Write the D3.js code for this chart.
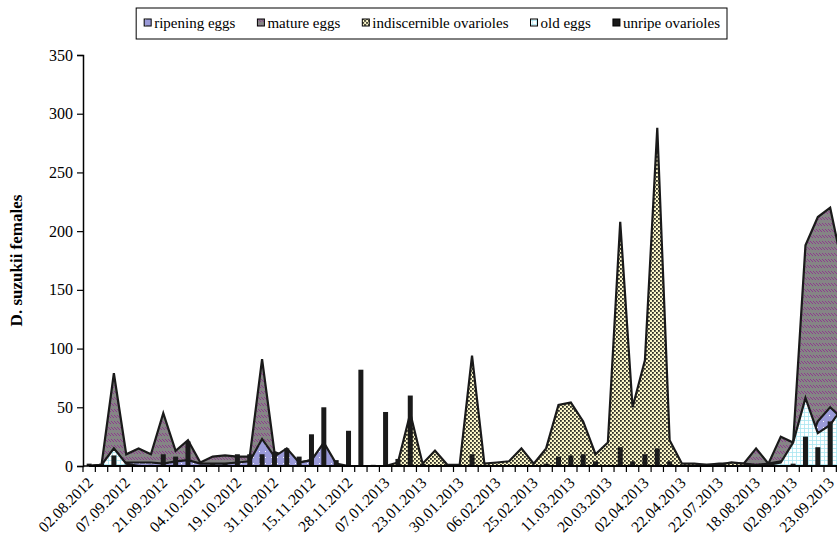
<!DOCTYPE html>
<html lang="en">
<head>
<meta charset="utf-8"/>
<title>D. suzukii females</title>
<script src="https://cdnjs.cloudflare.com/ajax/libs/d3/7.8.5/d3.min.js"></script>
<style>
  body { margin: 0; background: white; }
  text { font-family: "Liberation Serif", "DejaVu Serif", serif; fill: #000; }
</style>
</head>
<body>
<div id="chart"></div>
<script>
// tick labels, shown on every third sample
var labelDates = ["02.08.2012","07.09.2012","21.09.2012","04.10.2012","19.10.2012","31.10.2012",
  "15.11.2012","28.11.2012","07.01.2013","23.01.2013","30.01.2013","06.02.2013","25.02.2013",
  "11.03.2013","20.03.2013","02.04.2013","22.04.2013","22.07.2013","18.08.2013","02.09.2013","23.09.2013"];

var seriesNames = ["ripening eggs","mature eggs","indiscernible ovarioles","old eggs","unripe ovarioles"];

// counts per sample (63 samples)
var matureEggs = [0,1,79,10,15,10,45,13,22,3, 8,9,8,8,91,12,8,3,5,3,
  0,0,0,0,0,0,0,0,0,0, 0,0,0,0,0,0,0,0,0,0, 0,0,0,0,0,0,0,0,1,1,
  1,2,2,2,15,2,25,20,188,212, 220,170,150];
var ripeningEggs = [0,1,3,3,3,3,2,4,5,2, 2,2,3,4,23,8,15,3,5,20,
  2,0,0,0,0,0,0,0,0,0, 0,0,0,0,0,0,0,0,0,0, 0,0,0,0,0,0,0,0,0,0,
  0,0,0,0,0,0,0,3,12,38, 50,40,40];
var indiscernible = [0,0,2,0,0,0,0,0,0,0, 0,0,0,0,0,0,0,0,0,0,
  0,0,0,0,0,3,45,2,13,1, 1,94,2,3,4,15,2,15,52,54, 38,10,20,208,50,90,288,22,2,2,
  1,1,3,2,1,2,4,3,3,5, 6,35,40];
var oldEggs = [0,1,15,2,0,0,0,0,0,0, 0,0,0,0,0,0,0,0,0,0,
  0,0,0,0,0,0,0,0,0,0, 0,0,0,0,0,0,0,0,0,0, 0,0,0,0,0,0,0,0,0,0,
  0,0,0,0,0,1,3,20,58,28, 35,50,50];
var unripe = [2,2,9,1,1,1,10,8,21,1, 2,2,10,10,10,12,15,8,27,50,
  5,30,82,1,46,6,60,2,0,0, 0,10,0,0,0,0,0,2,8,9, 10,4,0,16,4,10,15,4,0,0,
  0,0,0,0,0,0,0,2,25,16, 38,20,0];

var yTicks = [0,50,100,150,200,250,300,350];

var W = 837, H = 542;
var plotLeft = 83, plotBottom = 466, plotTop = 55;
var bw = 12.35;
var n = matureEggs.length;

var svg = d3.select("#chart").append("svg").attr("width", W).attr("height", H);

// patterns
var defs = svg.append("defs");
var pMat = defs.append("pattern").attr("id","pMat").attr("patternUnits","userSpaceOnUse").attr("width",6).attr("height",6);
pMat.append("rect").attr("width",6).attr("height",6).attr("fill","#858585");
pMat.append("path").attr("d","M0,1 L3,4 M3,1 L6,4").attr("stroke","#8e3c8e").attr("stroke-width",1);

var pRip = defs.append("pattern").attr("id","pRip").attr("patternUnits","userSpaceOnUse").attr("width",6).attr("height",6);
pRip.append("rect").attr("width",6).attr("height",6).attr("fill","#9a9ad8");
pRip.append("rect").attr("x",1).attr("y",1).attr("width",1).attr("height",1).attr("fill","#fff");

var pInd = defs.append("pattern").attr("id","pInd").attr("patternUnits","userSpaceOnUse").attr("width",4).attr("height",4);
pInd.append("rect").attr("width",4).attr("height",4).attr("fill","#fbf6c8");
pInd.append("rect").attr("x",0).attr("y",0).attr("width",1.8).attr("height",1.8).attr("fill","#2e2e26");
pInd.append("rect").attr("x",2).attr("y",2).attr("width",1.8).attr("height",1.8).attr("fill","#2e2e26");

var pOld = defs.append("pattern").attr("id","pOld").attr("patternUnits","userSpaceOnUse").attr("width",4).attr("height",4);
pOld.append("rect").attr("width",4).attr("height",4).attr("fill","#fff");
pOld.append("path").attr("d","M0,0.5 H4 M0.5,0 V4").attr("stroke","#a8e4f0").attr("stroke-width",0.8);

var x = d3.scaleBand().domain(d3.range(n)).range([plotLeft, plotLeft + n * bw]);
var y = d3.scaleLinear().domain([0, 350]).range([plotBottom, plotTop]);
var cx = function(i) { return x(i) + x.bandwidth() / 2; };

var area = d3.area()
  .x(function(d, i) { return cx(i); })
  .y0(y(0))
  .y1(function(d) { return y(d); });

var layers = [
  { data: matureEggs, fill: "url(#pMat)" },
  { data: ripeningEggs, fill: "url(#pRip)" },
  { data: indiscernible, fill: "url(#pInd)" },
  { data: oldEggs, fill: "url(#pOld)" }
];
layers.forEach(function(l) {
  svg.append("path").datum(l.data)
    .attr("d", area)
    .attr("fill", l.fill)
    .attr("stroke", "#1a1a1a")
    .attr("stroke-width", 2.2)
    .attr("stroke-linejoin", "miter");
});

// unripe ovarioles as bars
var barW = 5;
svg.selectAll("rect.bar").data(unripe).enter().append("rect")
  .attr("class","bar")
  .attr("x", function(d, i) { return cx(i) - barW / 2; })
  .attr("y", function(d) { return y(d); })
  .attr("width", barW)
  .attr("height", function(d) { return y(0) - y(d); })
  .attr("fill", "#1a1a1a");

// y axis
var yAxis = d3.axisLeft(y).tickValues(yTicks).tickSize(6).tickPadding(4);
var gy = svg.append("g").attr("transform", "translate(" + plotLeft + ",0)").call(yAxis);
gy.select(".domain").attr("stroke", "#000").attr("stroke-width", 1.5);
gy.selectAll(".tick line").attr("stroke-width", 1.2);
gy.selectAll("text").style("font-size", "16px").style("font-family", "Liberation Serif");

// x axis: ticks at category boundaries, labels every third category
var gx = svg.append("g");
gx.append("line").attr("x1", plotLeft).attr("x2", W).attr("y1", plotBottom).attr("y2", plotBottom)
  .attr("stroke", "#000").attr("stroke-width", 1.5);
gx.selectAll("line.tk").data(d3.range(n + 1)).enter().append("line")
  .attr("class","tk")
  .attr("x1", function(i) { return plotLeft + i * bw; })
  .attr("x2", function(i) { return plotLeft + i * bw; })
  .attr("y1", plotBottom).attr("y2", plotBottom + 6)
  .attr("stroke", "#000").attr("stroke-width", 1.2);
gx.selectAll("text").data(labelDates).enter().append("text")
  .attr("transform", function(d, k) { return "translate(" + (cx(k * 3) + 1) + "," + (plotBottom + 14) + ") rotate(-45)"; })
  .attr("text-anchor", "end")
  .attr("dy", "0.35em")
  .style("font-size", "15.5px")
  .text(function(d) { return d; });

// y label
svg.append("text")
  .attr("transform", "translate(22," + ((plotTop + plotBottom) / 2) + ") rotate(-90)")
  .attr("text-anchor", "middle")
  .style("font-size", "17px")
  .style("font-weight", "bold")
  .text("D. suzukii females");

// legend
var legendFills = ["url(#pRip)", "url(#pMat)", "url(#pInd)", "url(#pOld)", "#1a1a1a"];
var lg = svg.append("g");
var box = lg.append("rect").attr("y", 8).attr("height", 31)
  .attr("fill", "#fff").attr("stroke", "#000").attr("stroke-width", 1);
var lx = 0;
seriesNames.forEach(function(name, k) {
  lg.append("rect").attr("x", lx).attr("y", 19).attr("width", 7).attr("height", 7)
    .attr("fill", legendFills[k]).attr("stroke", "#000").attr("stroke-width", 1);
  var t = lg.append("text").attr("x", lx + 10).attr("y", 28)
    .style("font-size", "15px").text(name);
  lx += 10 + t.node().getComputedTextLength() + (k < seriesNames.length - 1 ? 22 : 0);
});
// right-align the legend box at x = 727
var lgLeft = 720 - lx;
lg.selectAll("*").filter(function() { return this !== box.node(); })
  .attr("transform", "translate(" + lgLeft + ",0)");
box.attr("x", lgLeft - 8).attr("width", lx + 15);
</script>
</body>
</html>
